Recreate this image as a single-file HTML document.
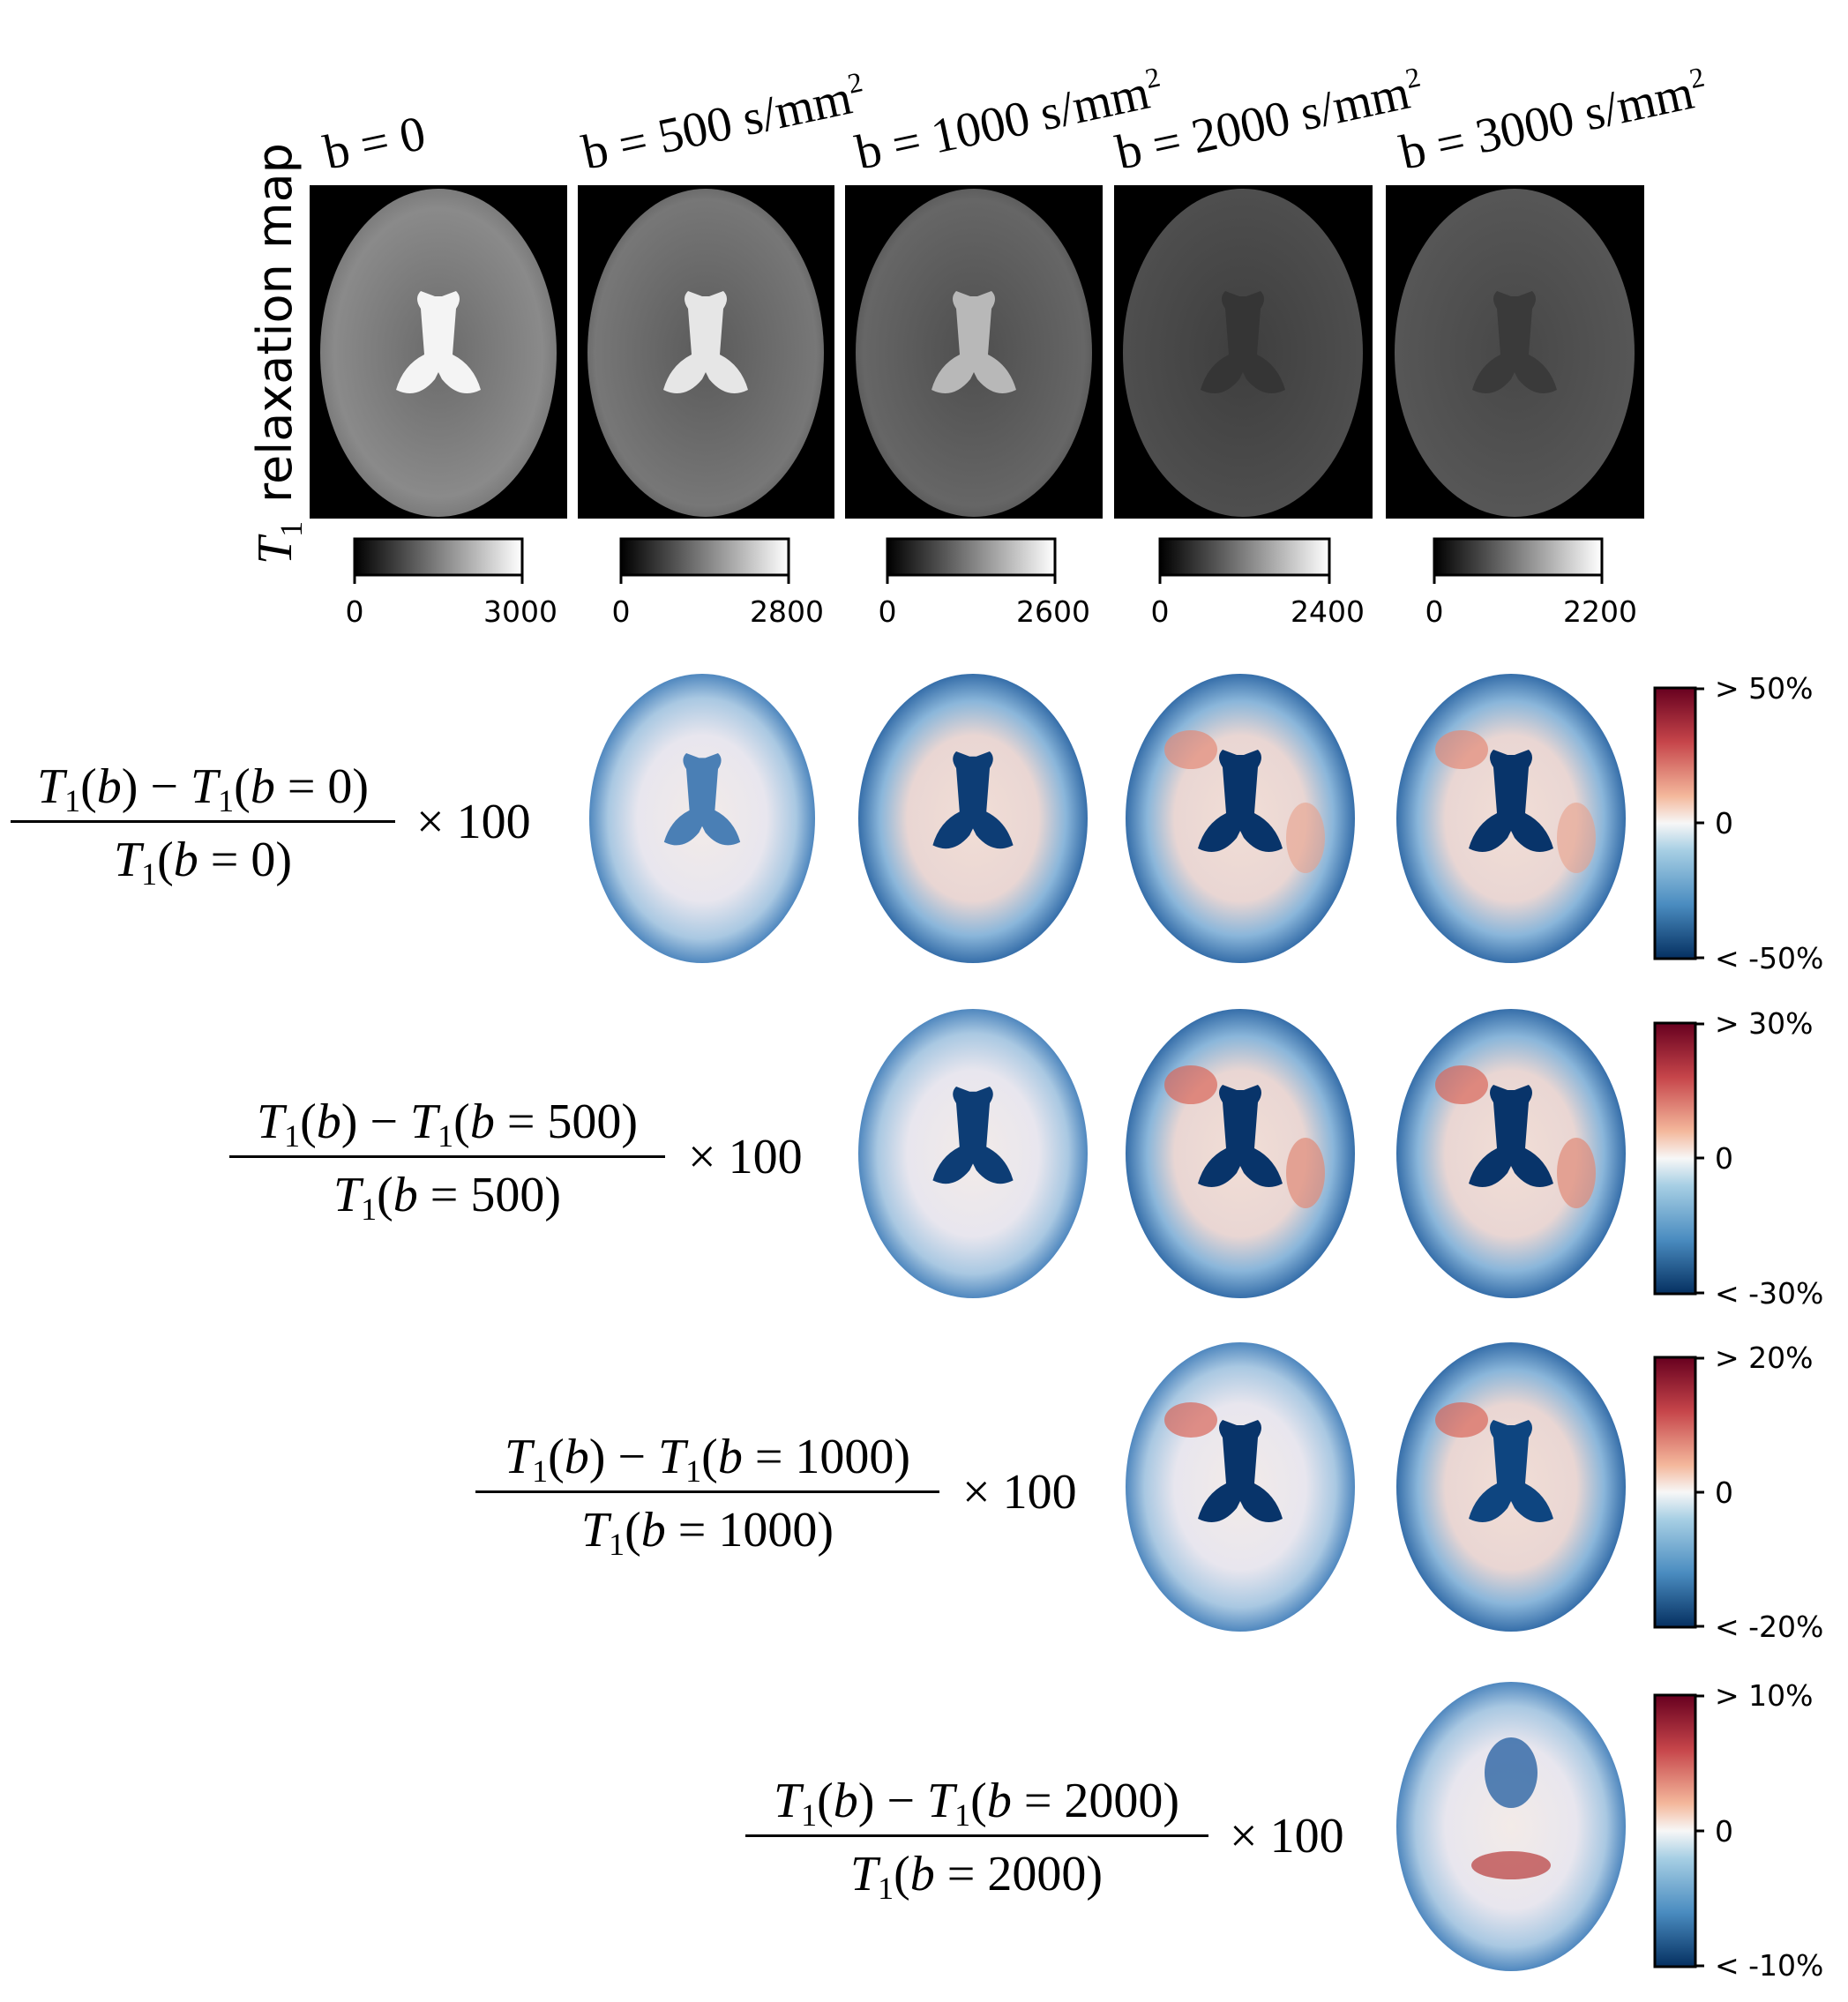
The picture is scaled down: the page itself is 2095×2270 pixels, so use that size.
<!DOCTYPE html>
<html><head><meta charset="utf-8"><style>
html,body{margin:0;padding:0;background:#fff}
svg{display:block}
.m{font-family:"Liberation Serif",serif;font-size:56px;fill:#000}
.t{font-family:"DejaVu Sans","Liberation Sans",sans-serif;font-size:33px;fill:#000}
</style></head><body>
<svg width="2095" height="2270" viewBox="0 0 2095 2270" xmlns="http://www.w3.org/2000/svg">
<defs>
<radialGradient id="g1" cx="50%" cy="50%" r="55%"><stop offset="0" stop-color="#6a6a6a"/><stop offset="0.8" stop-color="#8a8a8a"/><stop offset="1" stop-color="#707070"/></radialGradient>
<radialGradient id="g2" cx="50%" cy="50%" r="55%"><stop offset="0" stop-color="#5a5a5a"/><stop offset="0.85" stop-color="#777"/><stop offset="1" stop-color="#5a5a5a"/></radialGradient>
<radialGradient id="g3" cx="50%" cy="50%" r="55%"><stop offset="0" stop-color="#4e4e4e"/><stop offset="0.85" stop-color="#666"/><stop offset="1" stop-color="#505050"/></radialGradient>
<radialGradient id="g4" cx="50%" cy="50%" r="55%"><stop offset="0" stop-color="#3e3e3e"/><stop offset="1" stop-color="#505050"/></radialGradient>
<radialGradient id="g5" cx="50%" cy="50%" r="55%"><stop offset="0" stop-color="#474747"/><stop offset="1" stop-color="#585858"/></radialGradient>
<radialGradient id="ca" cx="50%" cy="50%" r="52%"><stop offset="0" stop-color="#f3ebe8"/><stop offset="0.55" stop-color="#e8e6ee"/><stop offset="0.8" stop-color="#a9c8e2"/><stop offset="1" stop-color="#3a78b6"/></radialGradient>
<radialGradient id="cb" cx="50%" cy="50%" r="52%"><stop offset="0" stop-color="#f2ded6"/><stop offset="0.55" stop-color="#e9d6d3"/><stop offset="0.78" stop-color="#8ab6da"/><stop offset="1" stop-color="#245f9f"/></radialGradient>
<linearGradient id="rb" x1="0" y1="0" x2="0" y2="1"><stop offset="0" stop-color="#67001f"/><stop offset="0.2" stop-color="#c6454a"/><stop offset="0.4" stop-color="#f4b89c"/><stop offset="0.5" stop-color="#f7f7f7"/><stop offset="0.6" stop-color="#a7cfe4"/><stop offset="0.8" stop-color="#4a8cc0"/><stop offset="1" stop-color="#053061"/></linearGradient>
<linearGradient id="gr" x1="0" y1="0" x2="1" y2="0"><stop offset="0" stop-color="#000"/><stop offset="1" stop-color="#fff"/></linearGradient>
<symbol id="vent" viewBox="0 0 100 130"><path d="M40 40 Q36 34 40 30 L48 33 L52 33 L60 30 Q64 34 60 40 L58 66 Q70 72 74 86 Q62 92 52 80 L50 76 L48 80 Q38 92 26 86 Q30 72 42 66 Z"/></symbol>
</defs>

<!-- top row titles -->
<text class="m" x="372" y="192" font-size="52" transform="rotate(-12 372 192)">b = 0</text>
<text class="m" x="665" y="192" font-size="52" transform="rotate(-12 665 192)">b = 500 s/mm<tspan font-size="32" dy="-22">2</tspan></text>
<text class="m" x="975" y="192" font-size="52" transform="rotate(-12 975 192)">b = 1000 s/mm<tspan font-size="32" dy="-22">2</tspan></text>
<text class="m" x="1270" y="192" font-size="52" transform="rotate(-12 1270 192)">b = 2000 s/mm<tspan font-size="32" dy="-22">2</tspan></text>
<text class="m" x="1592" y="192" font-size="52" transform="rotate(-12 1592 192)">b = 3000 s/mm<tspan font-size="32" dy="-22">2</tspan></text>

<!-- y label -->
<g transform="translate(330 640) rotate(-90)">
<text x="0" y="0" class="m" font-style="italic" font-size="56">T<tspan font-size="36" dy="12" font-style="normal">1</tspan></text>
<text x="70" y="0" font-family="DejaVu Sans,Liberation Sans,sans-serif" font-size="54">relaxation map</text>
</g>

<!-- grayscale panels -->
<g>
<rect x="351" y="210" width="292" height="378" fill="#000"/>
<ellipse cx="497" cy="400" rx="134" ry="186" fill="url(#g1)"/>
<use href="#vent" x="397" y="270" width="200" height="260" fill="#f4f4f4"/>
<rect x="655" y="210" width="291" height="378" fill="#000"/>
<ellipse cx="800" cy="400" rx="134" ry="186" fill="url(#g2)"/>
<use href="#vent" x="700" y="270" width="200" height="260" fill="#e6e6e6"/>
<rect x="958" y="210" width="292" height="378" fill="#000"/>
<ellipse cx="1104" cy="400" rx="134" ry="186" fill="url(#g3)"/>
<use href="#vent" x="1004" y="270" width="200" height="260" fill="#b8b8b8"/>
<rect x="1263" y="210" width="293" height="378" fill="#000"/>
<ellipse cx="1409" cy="400" rx="136" ry="186" fill="url(#g4)"/>
<use href="#vent" x="1309" y="270" width="200" height="260" fill="#353535"/>
<rect x="1571" y="210" width="293" height="378" fill="#000"/>
<ellipse cx="1717" cy="400" rx="136" ry="186" fill="url(#g5)"/>
<use href="#vent" x="1617" y="270" width="200" height="260" fill="#3a3a3a"/>
</g>

<!-- gray colorbars -->
<g stroke="#000" stroke-width="3">
<rect x="402" y="611" width="190" height="41" fill="url(#gr)"/>
<rect x="704" y="611" width="190" height="41" fill="url(#gr)"/>
<rect x="1006" y="611" width="190" height="41" fill="url(#gr)"/>
<rect x="1315" y="611" width="192" height="41" fill="url(#gr)"/>
<rect x="1626" y="611" width="190" height="41" fill="url(#gr)"/>
<path d="M402 652v10M592 652v10M704 652v10M894 652v10M1006 652v10M1196 652v10M1315 652v10M1507 652v10M1626 652v10M1816 652v10"/>
</g>
<g class="t" text-anchor="middle">
<text x="402" y="705">0</text><text x="590" y="705">3000</text>
<text x="704" y="705">0</text><text x="892" y="705">2800</text>
<text x="1006" y="705">0</text><text x="1194" y="705">2600</text>
<text x="1315" y="705">0</text><text x="1505" y="705">2400</text>
<text x="1626" y="705">0</text><text x="1814" y="705">2200</text>
</g>

<!-- colored brains -->
<g>
<!-- row1 -->
<ellipse cx="796" cy="928" rx="128" ry="164" fill="url(#ca)"/>
<use href="#vent" x="706" y="800" width="180" height="234" fill="#4a7fb5"/>
<ellipse cx="1103" cy="928" rx="130" ry="164" fill="url(#cb)"/>
<use href="#vent" x="1008" y="795" width="190" height="247" fill="#0d3d75"/>
<ellipse cx="1406" cy="928" rx="130" ry="164" fill="url(#cb)"/>
<ellipse cx="1350" cy="850" rx="30" ry="22" fill="#e28a78" opacity="0.7"/>
<ellipse cx="1480" cy="950" rx="22" ry="40" fill="#e8a08a" opacity="0.6"/>
<use href="#vent" x="1306" y="790" width="200" height="260" fill="#08346a"/>
<ellipse cx="1713" cy="928" rx="130" ry="164" fill="url(#cb)"/>
<ellipse cx="1657" cy="850" rx="30" ry="22" fill="#e28a78" opacity="0.7"/>
<ellipse cx="1787" cy="950" rx="22" ry="40" fill="#e8a08a" opacity="0.6"/>
<use href="#vent" x="1613" y="790" width="200" height="260" fill="#08346a"/>
<!-- row2 -->
<ellipse cx="1103" cy="1308" rx="130" ry="164" fill="url(#ca)"/>
<use href="#vent" x="1008" y="1175" width="190" height="247" fill="#0d3d75"/>
<ellipse cx="1406" cy="1308" rx="130" ry="164" fill="url(#cb)"/>
<ellipse cx="1350" cy="1230" rx="30" ry="22" fill="#d9675a" opacity="0.7"/>
<ellipse cx="1480" cy="1330" rx="22" ry="40" fill="#e08a78" opacity="0.7"/>
<use href="#vent" x="1306" y="1170" width="200" height="260" fill="#08346a"/>
<ellipse cx="1713" cy="1308" rx="130" ry="164" fill="url(#cb)"/>
<ellipse cx="1657" cy="1230" rx="30" ry="22" fill="#d9675a" opacity="0.7"/>
<ellipse cx="1787" cy="1330" rx="22" ry="40" fill="#e08a78" opacity="0.7"/>
<use href="#vent" x="1613" y="1170" width="200" height="260" fill="#08346a"/>
<!-- row3 -->
<ellipse cx="1406" cy="1686" rx="130" ry="164" fill="url(#ca)"/>
<ellipse cx="1350" cy="1610" rx="30" ry="20" fill="#d9675a" opacity="0.7"/>
<use href="#vent" x="1306" y="1550" width="200" height="260" fill="#08346a"/>
<ellipse cx="1713" cy="1686" rx="130" ry="164" fill="url(#cb)"/>
<ellipse cx="1657" cy="1610" rx="30" ry="20" fill="#d9675a" opacity="0.7"/>
<use href="#vent" x="1613" y="1550" width="200" height="260" fill="#0e4580"/>
<!-- row4 -->
<ellipse cx="1713" cy="2071" rx="130" ry="164" fill="url(#ca)"/>
<ellipse cx="1713" cy="2010" rx="30" ry="40" fill="#2c64a4" opacity="0.8"/>
<ellipse cx="1713" cy="2115" rx="45" ry="16" fill="#b83a3a" opacity="0.7"/>
</g>

<!-- diverging colorbars -->
<g stroke="#000" stroke-width="3">
<rect x="1876" y="780" width="46" height="307" fill="url(#rb)"/>
<rect x="1876" y="1160" width="46" height="307" fill="url(#rb)"/>
<rect x="1876" y="1539" width="46" height="306" fill="url(#rb)"/>
<rect x="1876" y="1922" width="46" height="308" fill="url(#rb)"/>
<path d="M1922 781h10M1922 933h10M1922 1086h10M1922 1161h10M1922 1313h10M1922 1466h10M1922 1540h10M1922 1692h10M1922 1844h10M1922 1923h10M1922 2076h10M1922 2229h10"/>
</g>
<g class="t">
<text x="1944" y="792">&gt; 50%</text><text x="1944" y="945">0</text><text x="1944" y="1098">&lt; -50%</text>
<text x="1944" y="1172">&gt; 30%</text><text x="1944" y="1325">0</text><text x="1944" y="1478">&lt; -30%</text>
<text x="1944" y="1551">&gt; 20%</text><text x="1944" y="1704">0</text><text x="1944" y="1856">&lt; -20%</text>
<text x="1944" y="1934">&gt; 10%</text><text x="1944" y="2088">0</text><text x="1944" y="2240">&lt; -10%</text>
</g>

<!-- formulas -->
<g class="m">
<text x="230" y="910" text-anchor="middle"><tspan font-style="italic">T</tspan><tspan font-size="36" dy="10">1</tspan><tspan dy="-10">(</tspan><tspan font-style="italic">b</tspan>) − <tspan font-style="italic">T</tspan><tspan font-size="36" dy="10">1</tspan><tspan dy="-10">(</tspan><tspan font-style="italic">b</tspan> = 0)</text>
<rect x="12" y="930" width="436" height="3" fill="#000"/>
<text x="230" y="993" text-anchor="middle"><tspan font-style="italic">T</tspan><tspan font-size="36" dy="10">1</tspan><tspan dy="-10">(</tspan><tspan font-style="italic">b</tspan> = 0)</text>
<text x="472" y="950">× 100</text>

<text x="507" y="1290" text-anchor="middle"><tspan font-style="italic">T</tspan><tspan font-size="36" dy="10">1</tspan><tspan dy="-10">(</tspan><tspan font-style="italic">b</tspan>) − <tspan font-style="italic">T</tspan><tspan font-size="36" dy="10">1</tspan><tspan dy="-10">(</tspan><tspan font-style="italic">b</tspan> = 500)</text>
<rect x="260" y="1310" width="494" height="3" fill="#000"/>
<text x="507" y="1373" text-anchor="middle"><tspan font-style="italic">T</tspan><tspan font-size="36" dy="10">1</tspan><tspan dy="-10">(</tspan><tspan font-style="italic">b</tspan> = 500)</text>
<text x="780" y="1330">× 100</text>

<text x="802" y="1670" text-anchor="middle"><tspan font-style="italic">T</tspan><tspan font-size="36" dy="10">1</tspan><tspan dy="-10">(</tspan><tspan font-style="italic">b</tspan>) − <tspan font-style="italic">T</tspan><tspan font-size="36" dy="10">1</tspan><tspan dy="-10">(</tspan><tspan font-style="italic">b</tspan> = 1000)</text>
<rect x="539" y="1690" width="526" height="3" fill="#000"/>
<text x="802" y="1753" text-anchor="middle"><tspan font-style="italic">T</tspan><tspan font-size="36" dy="10">1</tspan><tspan dy="-10">(</tspan><tspan font-style="italic">b</tspan> = 1000)</text>
<text x="1091" y="1710">× 100</text>

<text x="1107" y="2060" text-anchor="middle"><tspan font-style="italic">T</tspan><tspan font-size="36" dy="10">1</tspan><tspan dy="-10">(</tspan><tspan font-style="italic">b</tspan>) − <tspan font-style="italic">T</tspan><tspan font-size="36" dy="10">1</tspan><tspan dy="-10">(</tspan><tspan font-style="italic">b</tspan> = 2000)</text>
<rect x="845" y="2080" width="525" height="3" fill="#000"/>
<text x="1107" y="2143" text-anchor="middle"><tspan font-style="italic">T</tspan><tspan font-size="36" dy="10">1</tspan><tspan dy="-10">(</tspan><tspan font-style="italic">b</tspan> = 2000)</text>
<text x="1394" y="2100">× 100</text>
</g>
</svg>
</body></html>
